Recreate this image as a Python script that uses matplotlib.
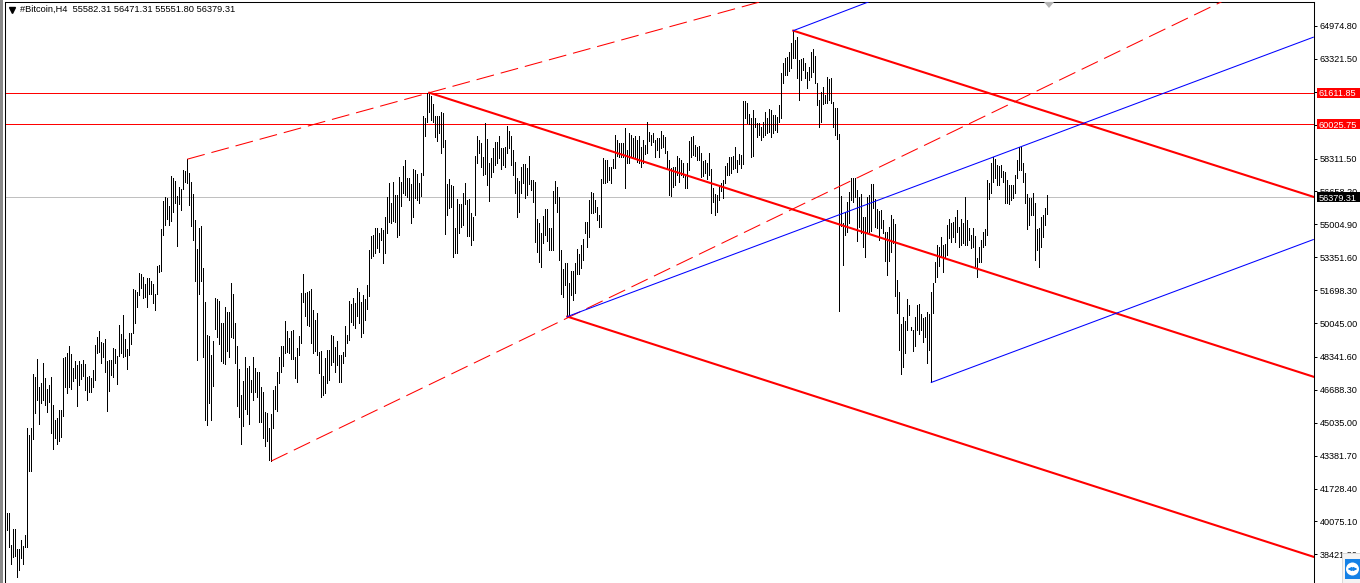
import matplotlib
matplotlib.use('Agg')
import matplotlib.pyplot as plt
from matplotlib.patches import Rectangle, Circle
from matplotlib.transforms import blended_transform_factory
import numpy as np

plt.rcParams['font.family'] = ['Liberation Sans', 'DejaVu Sans']

# H4 bars, prices in thousands
highs_a = [40.93,40.50,40.50,38.87,39.67,39.67,38.67,38.67,39.13,38.85,39.38,44.78,44.42,44.78,47.48,47.33,48.23,46.83,47.04,48.04,
47.26,46.75,46.94,47.33,45.95,45.17,45.28,45.65,45.65,48.29,48.34,48.53,48.89,48.49,47.78,48.16,47.93,48.12,47.97,48.19,
47.97,47.32,47.37,47.26,47.69,48.94,49.32,49.65,49.09,49.02,49.24,48.12,48.19,48.19,48.79,48.75,48.38,49.93,49.50,50.44,
49.24,48.75,49.56,49.56,51.76,51.71,51.61,52.58,52.49,52.36,51.99,52.30,52.30,52.17,51.99,51.52,52.92,52.98,54.75,56.19,
56.38,56.34,55.91,57.44,57.35,57.16,56.43,56.88,56.79,57.76,57.69,58.28,57.59,57.12,56.53,55.22,53.76,54.83,54.92,52.79,
51.11,49.43,49.37,48.44,49.15,51.30,51.24,51.15,50.06,50.06,50.85,50.62,50.62,52.04,51.52,50.06,48.87,47.75,46.44,47.13,
48.34,47.78,47.88,47.17,48.34,47.78,47.60,47.60,46.85,46.57,45.58,45.54,44.79,45.45,46.66,46.89,47.60,48.34,48.90,48.90,
50.17,49.65,49.28,49.65,49.69,48.34,48.81,49.37]
lows_a = [40.16,39.66,38.78,37.94,38.31,38.35,37.28,37.64,38.25,37.96,38.78,38.81,42.59,42.59,44.23,45.54,46.19,44.98,46.01,46.19,
45.95,45.58,46.10,44.51,43.73,44.27,43.95,44.14,44.33,45.35,46.85,46.53,46.85,46.75,47.13,47.26,45.88,46.94,47.22,47.37,
46.66,46.19,46.57,46.57,46.81,47.18,48.53,48.57,48.06,48.34,47.60,45.63,46.62,47.41,47.32,48.06,47.00,48.38,48.53,48.34,
48.38,47.75,48.44,49.00,49.56,50.03,50.87,51.43,51.80,51.28,51.33,50.87,51.52,51.52,51.05,50.72,51.48,52.60,52.64,54.47,
54.98,55.26,54.98,55.16,55.63,56.10,53.91,56.04,55.72,56.79,57.12,57.09,55.97,54.94,54.23,52.14,48.19,51.52,52.17,48.34,
45.17,44.94,46.01,45.17,46.90,49.74,49.32,49.00,48.16,48.06,48.01,48.62,48.34,49.32,49.28,48.03,45.88,45.32,43.99,44.89,
45.73,45.45,44.98,46.57,46.19,46.57,46.33,45.07,45.07,44.27,43.86,44.14,43.15,43.11,44.79,45.73,45.63,47.04,47.60,47.88,
48.53,48.57,48.53,48.25,48.25,47.26,47.09,48.44]

highs_b = [51.54,52.51,51.54,51.62,51.67,51.74,50.70,50.20,50.53,48.61,48.66,47.38,48.27,48.69,48.69,49.44,49.39,48.86,49.16,48.44,
48.44,48.61,49.90,49.44,51.15,51.00,51.29,51.07,51.79,51.62,51.12,51.45,51.25,51.96,53.72,54.42,54.47,54.80,54.80,54.59,
54.80,54.72,55.36,56.36,57.10,56.09,57.15,56.48,56.48,57.37,57.15,57.94,58.24,57.32,57.32,57.03,57.77,57.74,57.54,57.07,
57.57,60.45,60.33,61.62,61.62,61.46,61.05,60.45,60.45,60.45,60.67,60.58,59.24,57.03,57.28,56.98,56.93,54.80,56.26,56.03,
56.03,56.56,57.07,56.23,56.26,55.59,55.36,58.44,59.45,59.24,59.08,58.41,60.08,59.28,58.07,58.32,58.83,59.16,59.16,59.45,
58.83,58.83,58.91,59.95,59.71,59.45,58.74,58.16,57.32,57.20,57.90,58.04,58.04,57.82,58.44,57.23,57.23,57.15,55.26,55.09,
54.55,55.42,55.76,55.76,54.80,54.80,56.68,57.18,56.87,56.36,53.72,52.74,53.08,53.05,52.07,52.68,52.68,53.08,53.75,53.52]
lows_b = [49.03,51.12,50.40,49.95,49.90,49.03,48.56,48.66,48.44,47.55,46.34,46.43,46.55,47.01,47.18,47.94,48.10,47.60,47.94,47.10,
47.10,48.02,48.39,49.03,49.19,50.11,49.95,49.78,50.40,50.03,49.33,49.53,50.20,50.73,51.40,53.30,53.41,53.55,53.80,53.63,
54.22,53.08,53.55,54.55,55.14,55.06,55.19,55.14,54.35,54.47,55.93,56.56,56.48,56.40,56.23,55.09,55.36,56.31,56.23,56.09,
56.43,57.49,59.45,60.17,60.67,60.25,60.17,59.41,59.21,59.61,58.57,58.91,54.52,55.48,55.81,55.86,53.35,53.58,53.58,54.55,
54.89,54.97,56.03,54.42,54.42,53.98,54.22,55.48,58.07,58.61,57.90,57.49,57.54,56.98,56.20,57.40,57.65,57.99,58.07,58.32,
57.77,57.99,57.90,58.57,58.83,57.99,57.49,56.60,55.36,55.64,56.56,57.10,56.31,56.48,57.03,56.73,56.15,54.13,53.63,53.13,
52.84,54.05,54.47,54.19,53.72,53.72,53.72,56.06,55.64,53.21,51.50,51.37,51.96,50.37,50.45,51.45,51.20,51.54,52.51,52.51]

highs_c = [53.97,54.25,55.14,55.14,56.23,56.61,56.56,56.23,55.86,55.47,57.27,58.32,58.24,58.24,57.90,57.87,58.27,59.50,59.24,59.11,
59.11,59.11,59.83,58.74,59.58,59.50,59.33,59.45,59.24,59.45,58.91,59.24,59.00,60.13,59.66,59.50,59.61,59.24,59.33,59.33,
59.71,59.50,59.41,58.71,58.24,57.82,57.87,57.87,58.44,58.32,58.24,58.07,57.49,58.07,59.21,59.41,59.45,59.00,58.91,58.94,
58.57,58.21,58.24,58.07,58.57,57.77,56.82,56.53,56.48,56.98,57.07,57.23,57.94,58.10,58.37,58.37,58.44,58.88,58.24,58.52,
58.49,61.20,61.20,61.09,60.55,60.33,60.75,60.33,60.08,60.08,59.91,60.16,60.67,60.33,60.79,60.75,60.50,60.50,60.42,61.00,
62.63,63.10,63.35,63.40,63.68,64.14,64.74,64.27,64.40,63.26,63.30,63.35,63.10,62.68,62.93,63.65,63.80,63.47,62.13,61.25,
61.67,61.92,61.50,62.39,62.29,62.34,61.17,60.84,60.84,59.55,56.43,55.06,55.64,56.14,56.65,57.32,57.32,57.32,56.73,56.40,
56.53,55.39,55.39,56.40,56.48]
lows_c = [52.80,53.21,54.59,53.88,54.39,55.56,55.56,55.64,55.22,54.85,54.85,57.10,57.07,57.15,57.23,57.07,57.82,57.82,58.44,58.41,
58.41,58.41,56.82,58.07,58.07,58.44,58.32,58.37,58.16,58.10,57.90,58.07,58.52,58.57,59.21,59.00,59.16,58.41,58.74,58.41,
58.82,58.91,58.57,57.82,56.48,56.43,56.90,56.98,57.49,57.15,57.49,57.40,56.82,56.82,57.74,58.41,58.49,58.44,58.24,58.24,
57.37,57.44,57.60,57.27,57.49,55.56,56.14,55.47,55.64,56.23,56.68,56.31,57.07,57.47,57.49,57.60,57.77,57.82,57.65,58.04,
57.82,58.02,60.33,60.08,60.05,58.37,58.44,59.91,59.38,59.50,59.24,59.38,59.50,59.58,59.66,59.41,59.58,59.75,59.66,60.16,
60.33,62.09,62.51,62.51,62.73,62.85,63.35,63.35,62.34,61.25,62.26,62.76,62.34,61.84,62.26,62.43,62.68,62.09,61.00,59.91,
60.16,61.05,61.09,61.09,61.25,61.12,59.91,59.50,59.28,50.66,54.92,52.96,54.47,54.64,55.06,56.23,56.14,56.40,54.18,54.85,
54.55,53.88,53.38,54.55,54.64]

highs_d = [57.03,57.03,56.26,55.76,55.70,55.72,55.22,54.64,54.64,54.86,55.47,55.26,55.02,52.21,51.62,50.00,50.36,50.16,51.25,50.95,
49.86,49.69,50.36,50.95,51.00,50.50,50.28,50.33,50.62,50.50,51.59,52.07,53.13,53.97,53.88,54.39,53.97,54.02,54.97,55.26,
55.09,55.14,55.36,55.72,54.89,55.26,55.09,56.40,55.22,54.81,54.47,54.81,54.42,53.30,53.88,54.22,54.64,54.75,57.23,57.10,
58.10,58.37,58.27,57.99,57.94,57.99,57.70,57.65,57.23,56.98,56.98,56.98,57.48,58.24,58.87,58.87,58.10,57.60,56.53,56.31,
56.31,56.56,56.06,54.77,54.80,55.39,55.47,55.81,56.47]
lows_d = [54.69,55.81,54.89,54.81,54.22,54.81,54.55,53.18,52.46,53.18,53.63,54.05,51.42,50.53,48.69,47.48,47.85,48.55,49.69,50.45,
49.69,48.66,48.89,49.69,49.48,49.69,49.11,49.36,48.02,48.69,47.06,50.53,52.12,52.34,52.91,53.38,52.63,53.38,53.47,54.30,
54.13,54.39,54.13,54.64,53.88,53.97,54.05,53.97,53.97,54.22,53.80,53.88,52.91,52.34,53.13,53.13,53.88,53.97,54.47,56.26,
56.60,57.15,57.32,56.98,56.98,57.40,57.15,56.06,56.09,56.03,56.23,56.31,56.56,57.32,57.73,57.73,57.15,56.06,54.75,54.97,
55.47,55.47,53.21,53.71,52.88,53.88,54.39,54.97,55.55]

highs = np.array(highs_a + highs_b + highs_c + highs_d) * 1000
lows = np.array(lows_a + lows_b + lows_c + lows_d) * 1000
bars = np.arange(len(highs))

# levels
level_red_a = 61611.85
level_red_b = 60025.75
last_price = 56379.31

# trend lines: (bar, price) start and end
fork_bar = [212, 281, 394, 91, 133]
fork_price = [61620, 50370, 64740, 58280, 43110]
thick_end_bar = 654
thick_end_price = [47350, 38300, 56390]
dash_end_bar = [212, 281]
dash_end_price = [61620, 50300]
blue_start_bar = [281, 463, 394]
blue_start_price = [50370, 47060, 64740]
blue_end_bar = [654, 654, 431.5]
blue_end_price = [64410, 54240, 66180]

tick_values = [64974.8, 63321.5, 61668.2, 60015.0, 58311.5, 56658.2, 55004.9, 53351.6, 51698.3,
               50045.0, 48341.6, 46688.3, 45035.0, 43381.7, 41728.4, 40075.1, 38421.8]
tick_labels = ['64974.80', '63321.50', '61668.20', '60015.00', '58311.50', '56658.20', '55004.90', '53351.60', '51698.30',
               '50045.00', '48341.60', '46688.30', '45035.00', '43381.70', '41728.40', '40075.10', '38421.80']

W, H = 1360, 583
fig = plt.figure(figsize=(W / 100, H / 100), dpi=100, facecolor='white')
ax = fig.add_axes([4.5 / W, 0, 1309 / W, 581.5 / H])
ax.set_xlim((4.5 - 5.3) / 2, (1313.5 - 5.3) / 2)
ax.set_ylim(36980, 66205)

ax.vlines(bars, lows, highs, color='black', lw=0.72, antialiased=False, zorder=3)

# horizontal levels
ax.axhline(level_red_a, color='#ff0000', lw=0.72, antialiased=False, zorder=2)
ax.axhline(level_red_b, color='#ff0000', lw=0.72, antialiased=False, zorder=2)
ax.axhline(last_price, color='#c0c0c0', lw=0.72, antialiased=False, zorder=2)

# thick pitchfork lines
for k in range(3):
    ax.plot([fork_bar[k], thick_end_bar], [fork_price[k], thick_end_price[k]],
            color='#ff0000', lw=1.5, zorder=4)

# dashed lines, carried on past the second point until they leave the chart
for k in range(2):
    x0, y0 = fork_bar[k + 3], fork_price[k + 3]
    x1, y1 = dash_end_bar[k], dash_end_price[k]
    ax.plot([x0, thick_end_bar], [y0, y0 + (y1 - y0) / (x1 - x0) * (thick_end_bar - x0)],
            color='#ff0000', lw=0.75, dashes=(17.3, 6.7), zorder=4)

# blue lines
for k in range(3):
    ax.plot([blue_start_bar[k], blue_end_bar[k]], [blue_start_price[k], blue_end_price[k]],
            color='#0000ff', lw=0.75, zorder=4)

# axis on the right
for s in ['top', 'left', 'right']:
    ax.spines[s].set_linewidth(0.75)
    ax.spines[s].set_color('black')
ax.spines['bottom'].set_visible(False)
ax.set_xticks([])
ax.yaxis.tick_right()
ax.set_yticks(tick_values)
ax.set_yticklabels(tick_labels, fontsize=6.6)
ax.tick_params(axis='y', length=2.2, width=0.72, pad=2.2, colors='black')

# price tags
trans = blended_transform_factory(ax.transAxes, ax.transData)
for val, label, col in [(level_red_a, '61611.85', '#ff0000'), (level_red_b, '60025.75', '#ff0000'),
                        (last_price, '56379.31', 'black')]:
    ax.add_patch(Rectangle((1.0024, val - 250), 0.04, 500, transform=trans, facecolor=col,
                           edgecolor='none', clip_on=False, zorder=6))
    ax.text(1.0042, val, label, transform=trans, color='white', fontsize=6.6, va='center_baseline',
            ha='left', clip_on=False, zorder=7)

# header text
ax.plot([7.5 / 1309], [0.986], marker='v', ms=4, color='black', transform=ax.transAxes,
        clip_on=False, zorder=7)
fig.text(20 / W, 1 - 9 / H, '#Bitcoin,H4  55582.31 56471.31 55551.80 56379.31', fontsize=6.7,
         color='black', va='center', ha='left')

# window strip on the left, small marker at the top, remote-control badge
fig.add_artist(Rectangle((0, 0), 3 / W, 1, transform=fig.transFigure, facecolor='#8a8a8a', edgecolor='none'))
fig.add_artist(plt.Polygon([[1044 / W, 1 - 2 / H], [1054 / W, 1 - 2 / H], [1049 / W, 1 - 8 / H]],
                           transform=fig.transFigure, facecolor='#b4b4b4', edgecolor='none'))
fig.add_artist(Rectangle((1342 / W, 0), 18 / W, 30 / H, transform=fig.transFigure,
                         facecolor='#f4f4f4', edgecolor='#d8d8d8', lw=0.7))
icon = fig.add_axes([1345 / W, 4 / H, 15 / W, 20 / H], zorder=5, facecolor='#1581e6')
icon.set_xlim(0, 15)
icon.set_ylim(0, 20)
icon.set_xticks([])
icon.set_yticks([])
for s in icon.spines.values():
    s.set_visible(False)
icon.add_patch(Circle((7.5, 10), 6.5, facecolor='white', edgecolor='none'))
icon.annotate('', xy=(2.5, 10), xytext=(12.5, 10),
              arrowprops=dict(arrowstyle='<|-|>', color='#1581e6', lw=1.0, mutation_scale=5,
                              shrinkA=0, shrinkB=0))

fig.savefig('out.png', dpi=100)
